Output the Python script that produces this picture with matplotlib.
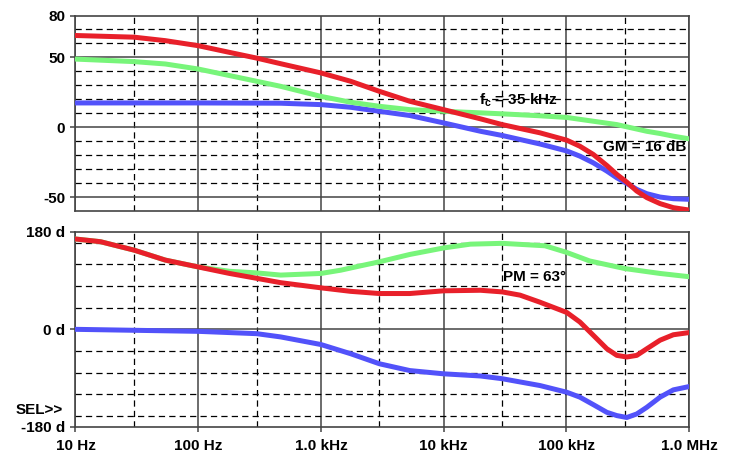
import matplotlib
matplotlib.use("Agg")
import matplotlib.pyplot as plt

plt.rcParams['font.family'] = ['Liberation Sans', 'DejaVu Sans']
plt.rcParams['font.weight'] = 'bold'
plt.rcParams['mathtext.fontset'] = 'custom'
plt.rcParams['mathtext.rm'] = 'Liberation Sans:bold'
plt.rcParams['mathtext.bf'] = 'Liberation Sans:bold'
plt.rcParams['mathtext.it'] = 'Liberation Sans:bold'
plt.rcParams['lines.scale_dashes'] = False

# ---- data ----
# magnitude (dB)
red_mag_f = [10, 30, 54, 100, 180, 300, 470, 1000, 1750, 3000, 5300, 10000,
             20000, 30000, 61000, 101000, 129000, 166000, 214000, 258000,
             311000, 375000, 453000, 581000, 745000, 1e6]
red_mag = [65.7, 64.5, 62, 58.4, 53.6, 49.5, 45.5, 38.9, 32.9, 25.7, 18.6, 12.6,
           6, 1.9, -4, -9.3, -13.6, -19.5, -27.4, -33.8,
           -39.3, -45.7, -50.4, -54.7, -57.6, -59.3]

green_mag_f = [10, 30, 54, 100, 180, 300, 470, 1000, 1750, 3000, 5300, 10000,
               20000, 30000, 61000, 101000, 166000, 258000, 311000, 453000,
               581000, 745000, 1e6]
green_mag = [48.8, 47, 45.3, 41.7, 37, 32.9, 29.3, 22.1, 17.9, 15, 12.6, 11.4,
             10.3, 9.6, 8.2, 7, 4.3, 1.9, 0.3, -2.9,
             -4.5, -6.4, -8.3]

blue_mag_f = [10, 100, 470, 1000, 1750, 3000, 5300, 10000, 20000, 30000,
              61000, 101000, 129000, 166000, 214000, 258000, 311000, 375000,
              453000, 581000, 745000, 1e6]
blue_mag = [17.4, 17.4, 17.2, 16.2, 14.3, 11.4, 8.4, 3.1, -2.9, -5.9,
            -12, -17, -20.7, -25.5, -31.4, -36.2, -40.2, -44.5,
            -47.6, -50, -51.2, -51.6]

# phase (deg)
red_ph_f = [10, 16, 30, 54, 100, 180, 300, 470, 1000, 1750, 3000, 5300, 10000,
            20000, 30000, 42000, 61000, 101000, 129000, 166000, 214000, 258000,
            311000, 375000, 453000, 581000, 745000, 1e6]
red_ph = [166.5, 161.5, 146, 127.6, 115, 103, 94, 86, 76.5, 70, 66, 66, 71,
          72, 69, 63, 50, 31, 13.5, -11, -35.8, -48,
          -51, -48, -35.8, -20, -10, -6]

green_ph_f = [10, 16, 30, 54, 100, 180, 300, 470, 1000, 1450, 2100, 3000, 5300,
              10000, 16500, 30000, 67000, 100000, 155000, 300000, 580000, 1e6]
green_ph = [166.5, 161.5, 146, 127.6, 115, 107, 104, 100, 103, 109, 117, 124.5, 138,
            150, 157, 158.5, 154, 142, 126, 112, 103, 97]

blue_ph_f = [10, 100, 300, 470, 1000, 1750, 3000, 5300, 10000, 20000, 30000,
             61000, 101000, 129000, 166000, 214000, 258000, 311000, 375000,
             453000, 581000, 745000, 1e6]
blue_ph = [0, -3.7, -8, -14, -28, -45, -63.5, -76, -82, -86, -91,
           -103.6, -116, -125, -138.8, -153, -159, -162.5, -156,
           -143.7, -125, -111.6, -105.5]

decades = [10, 100, 1000, 10000, 100000, 1e6]
x_labels = ['10 Hz', '100 Hz', '1.0 kHz', '10 kHz', '100 kHz', '1.0 MHz']
mag_ticks = [80, 50, 0, -50]
mag_solid = [50, 0, -50]
mag_dashed = [70, 60, 40, 30, 20, 10, -10, -20, -30, -40]
ph_ticks = [180, 0, -180]
ph_labels = ['180 d', '0 d', '-180 d']
ph_dashed = [160, 120, 80, 40, -40, -80, -120, -160]

RED = '#e8202a'
GREEN = '#78f57a'
BLUE = '#5252fa'
SOLID = '#444444'
LW = 3.6
FS = 11

fig = plt.figure(figsize=(7.33, 4.54), dpi=100)
ax1 = fig.add_axes([0.103, 0.5352, 0.837, 0.4306])
ax2 = fig.add_axes([0.103, 0.0595, 0.837, 0.4302])


def draw_grid(ax, solid_h, dashed_h):
    for d in decades:
        ax.axvline(d, color=SOLID, lw=1.1, zorder=1)
        if d < 1e6:
            ax.axvline(3 * d, color='black', lw=0.9, ls=(0, (4.5, 3)), zorder=1)
    for v in solid_h:
        ax.axhline(v, color=SOLID, lw=1.1, zorder=1)
    for v in dashed_h:
        ax.axhline(v, color='black', lw=0.9, ls=(0, (4.5, 3)), zorder=1)
    for s in ax.spines.values():
        s.set_color(SOLID)
        s.set_linewidth(1.2)
    ax.set_xscale('log')
    ax.set_xlim(10, 1e6)
    ax.minorticks_off()
    ax.tick_params(axis='both', length=3.5, width=1.1, color=SOLID,
                   labelsize=FS, pad=4)


def curve(ax, f, v, color, z):
    ax.plot(f, v, color=color, lw=LW, solid_capstyle='round',
            solid_joinstyle='round', zorder=z)


# magnitude panel
draw_grid(ax1, mag_solid, mag_dashed)
ax1.set_ylim(-60, 80)
ax1.set_yticks(mag_ticks)
ax1.set_yticklabels([str(v) for v in mag_ticks])
ax1.set_xticks(decades)
ax1.set_xticklabels([])
ax1.tick_params(axis='x', length=0)
curve(ax1, blue_mag_f, blue_mag, BLUE, 3)
curve(ax1, green_mag_f, green_mag, GREEN, 3)
curve(ax1, red_mag_f, red_mag, RED, 4)
ax1.text(19500, 19.5, r'f$_\mathrm{c}$ = 35 kHz', fontsize=FS, fontweight='bold',
         ha='left', va='center', zorder=5)
ax1.text(199000, -14.1, 'GM = 16 dB', fontsize=FS, fontweight='bold',
         ha='left', va='center', zorder=5)

# phase panel
draw_grid(ax2, [0], ph_dashed)
ax2.set_ylim(-180, 180)
ax2.set_yticks(ph_ticks)
ax2.set_yticklabels(ph_labels)
ax2.set_xticks(decades)
ax2.set_xticklabels(x_labels)
ax2.tick_params(axis='x', pad=5)
curve(ax2, blue_ph_f, blue_ph, BLUE, 3)
curve(ax2, green_ph_f, green_ph, GREEN, 3)
curve(ax2, red_ph_f, red_ph, RED, 4)
ax2.text(30600, 96, 'PM = 63°', fontsize=FS, fontweight='bold',
         ha='left', va='center', zorder=5)
ax2.text(-0.020, 0.088, 'SEL>>', transform=ax2.transAxes, fontsize=FS,
         fontweight='bold', ha='right', va='center')

fig.savefig('out.png', dpi=100)
